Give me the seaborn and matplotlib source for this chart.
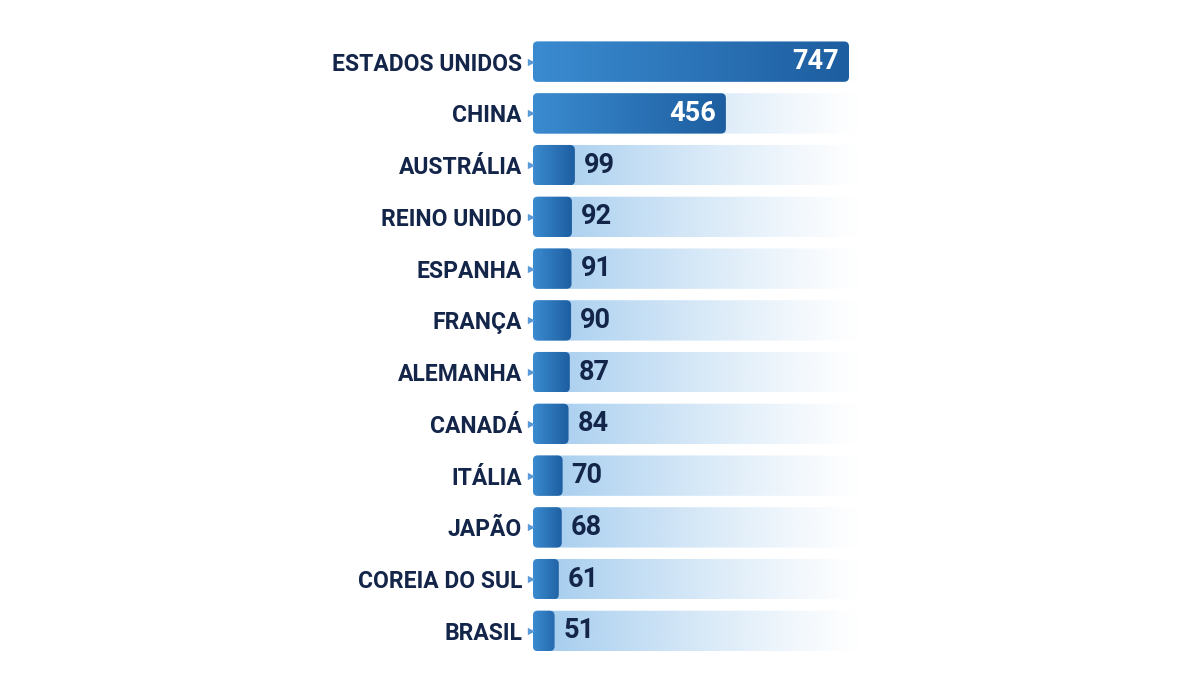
import matplotlib
matplotlib.use("Agg")
import matplotlib.pyplot as plt
import numpy as np
import pandas as pd
import seaborn as sns
from matplotlib.patches import FancyBboxPatch
from matplotlib.colors import to_rgb

countries = ["ESTADOS UNIDOS", "CHINA", "AUSTRÁLIA", "REINO UNIDO", "ESPANHA", "FRANÇA",
             "ALEMANHA", "CANADÁ", "ITÁLIA", "JAPÃO", "COREIA DO SUL", "BRASIL"]
values = [747, 456, 99, 92, 91, 90, 87, 84, 70, 68, 61, 51]

navy = "#14254a"
bar_left = "#3b8bd0"
bar_right = "#1d5e a0".replace(" ", "")
band_color = "#9cc8ed"

df = pd.DataFrame({"pais": countries, "valor": values})

sns.set_theme(style="white")
plt.rcParams["font.family"] = ["Roboto", "DejaVu Sans"]

fig = plt.figure(figsize=(12, 6.75), dpi=100)
ax = fig.add_axes([533 / 1200, 0.027, (862 - 533) / 1200, 0.92])

xmax = 747 * (862 - 533) / (849 - 533)
bar_w = 0.78

# bars drawn by seaborn, then restyled with gradients
sns.barplot(data=df, x="valor", y="pais", orient="h", width=bar_w, ax=ax,
            color=bar_left, saturation=1)

ax.set_xlim(0, xmax)
ax.set_ylim(len(countries) - 0.5, -0.5)

# pixel scale for rounded corners
px_x = (849 - 533) / 747.0
px_y = 0.92 * 675 / len(countries)
aspect = px_x / px_y

band_rgb = np.array(to_rgb(band_color))
t = np.linspace(0, 1, 256)
band = np.zeros((1, 256, 4))
band[0, :, :3] = band_rgb
band[0, :, 3] = 0.95 * (1 - t) ** 1.2

c0, c1 = np.array(to_rgb(bar_left)), np.array(to_rgb(bar_right))
grad = np.zeros((1, 256, 3))
grad[0] = c0[None, :] * (1 - t[:, None]) + c1[None, :] * t[:, None]

bars = list(ax.patches)
for p in bars:
    x0 = p.get_x()
    y0 = p.get_y()
    w = p.get_width()
    h = p.get_height()
    p.set_visible(False)

    # background fading band
    bp = FancyBboxPatch((x0, y0), xmax * 0.995, h,
                        boxstyle="round,pad=0,rounding_size=%f" % (4 / px_x),
                        mutation_aspect=aspect, facecolor="none", edgecolor="none")
    ax.add_patch(bp)
    im = ax.imshow(band, extent=[x0, xmax, y0 + h, y0], aspect="auto",
                   interpolation="bicubic", zorder=1)
    im.set_clip_path(bp)

    # value bar with gradient
    fp = FancyBboxPatch((x0, y0), w, h,
                        boxstyle="round,pad=0,rounding_size=%f" % (5 / px_x),
                        mutation_aspect=aspect, facecolor="none", edgecolor="none")
    ax.add_patch(fp)
    ext = x0 + max(w, 30 / px_x)
    im2 = ax.imshow(grad, extent=[x0, ext, y0 + h, y0], aspect="auto",
                    interpolation="bicubic", zorder=2)
    im2.set_clip_path(fp)

ax.set_xlim(0, xmax)
ax.set_ylim(len(countries) - 0.5, -0.5)

# small pointer marks
ax.scatter([-2 / px_x] * len(values), range(len(values)), marker=">", s=28,
           color="#5b9ad6", zorder=3, clip_on=False, linewidths=0)

# value labels
for i, v in enumerate(values):
    if v > 300:
        ax.text(v - 10 / px_x, i, str(v), ha="right", va="center", color="white",
                fontsize=19.5, fontweight="bold", zorder=4)
    else:
        ax.text(v + 9 / px_x, i, str(v), ha="left", va="center", color=navy,
                fontsize=19.5, fontweight="bold", zorder=4)

ax.set_xlabel("")
ax.set_ylabel("")
ax.set_xticks([])
ax.tick_params(axis="y", length=0, pad=8)
for lab in ax.get_yticklabels():
    lab.set_fontsize(16.5)
    lab.set_fontweight("bold")
    lab.set_color(navy)
sns.despine(ax=ax, left=True, bottom=True)
ax.set_facecolor("white")

fig.savefig("out.png", dpi=100, facecolor="white")
